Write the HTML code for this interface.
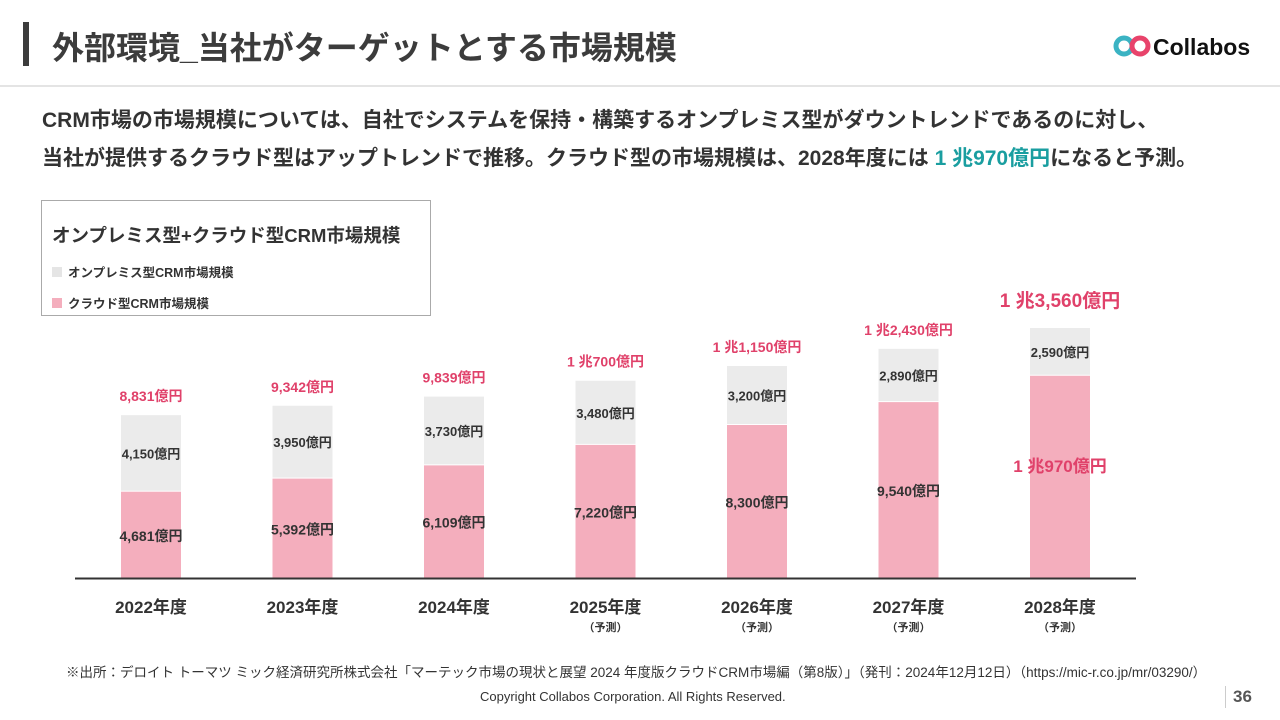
<!DOCTYPE html>
<html><head><meta charset="utf-8">
<style>
body{margin:0;width:1280px;height:720px;background:#fff;font-family:"Liberation Sans","Noto Sans CJK JP",sans-serif;color:#333;position:relative;overflow:hidden}
.abs{position:absolute}
</style></head><body>
<div class="abs" style="left:23px;top:22px;width:6px;height:44px;background:#3c3c3c"></div>
<div class="abs" style="left:52px;top:23px;font-size:32px;font-weight:bold;color:#3c3c3c;white-space:nowrap">外部環境_当社がターゲットとする市場規模</div>
<div class="abs" style="left:1113px;top:30px;width:160px;height:32px">
<svg width="160" height="32"><circle cx="11" cy="16" r="8" fill="none" stroke="#3bb3c3" stroke-width="5"/><circle cx="27" cy="16" r="8" fill="none" stroke="#e8436b" stroke-width="5"/><text x="40" y="25" font-size="23" font-weight="bold" fill="#111" font-family="Liberation Sans,sans-serif">Collabos</text></svg></div>
<div class="abs" style="left:0;top:85px;width:1280px;height:2px;background:#e4e4e4"></div>
<div class="abs" style="left:42px;top:102px;font-size:21px;font-weight:bold;line-height:38px;color:#333;white-space:nowrap">CRM市場の市場規模については、自社でシステムを保持・構築するオンプレミス型がダウントレンドであるのに対し、<br>当社が提供するクラウド型はアップトレンドで推移。クラウド型の市場規模は、2028年度には <span style="color:#1a9ea0">1 兆970億円</span>になると予測。</div>
<div class="abs" style="left:41px;top:200px;width:390px;height:116px;border:1px solid #aaa;box-sizing:border-box">
<div class="abs" style="left:10px;top:21px;font-size:18.5px;font-weight:bold;white-space:nowrap">オンプレミス型+クラウド型CRM市場規模</div>
<div class="abs" style="left:10px;top:61px;font-size:12.5px;font-weight:bold;white-space:nowrap"><span style="display:inline-block;width:10px;height:10px;background:#e5e5e5;margin-right:6px"></span>オンプレミス型CRM市場規模</div>
<div class="abs" style="left:10px;top:92px;font-size:12.5px;font-weight:bold;white-space:nowrap"><span style="display:inline-block;width:10px;height:10px;background:#f4aebd;margin-right:6px"></span>クラウド型CRM市場規模</div>
</div>
<svg class="abs" id="chart" style="left:0;top:0" width="1280" height="720"></svg>
<div class="abs" style="left:66px;top:661px;font-size:13.5px;color:#333;white-space:nowrap">※出所：デロイト トーマツ ミック経済研究所株式会社「マーテック市場の現状と展望 2024 年度版クラウドCRM市場編（第8版）」（発刊：2024年12月12日）（https://mic-r.co.jp/mr/03290/）</div>
<div class="abs" style="left:480px;top:689px;font-size:13px;color:#333;white-space:nowrap">Copyright Collabos Corporation. All Rights Reserved.</div>
<div class="abs" style="left:1225px;top:686px;width:1px;height:22px;background:#ccc"></div>
<div class="abs" style="left:1233px;top:687px;font-size:17px;font-weight:bold;color:#555">36</div>
<script>
const years=["2022年度","2023年度","2024年度","2025年度","2026年度","2027年度","2028年度"];
const forecast=[false,false,false,true,true,true,true];
const cloud=[4681,5392,6109,7220,8300,9540,10970];
const onprem=[4150,3950,3730,3480,3200,2890,2590];
const cloudLabels=["4,681億円","5,392億円","6,109億円","7,220億円","8,300億円","9,540億円","1 兆970億円"];
const onpremLabels=["4,150億円","3,950億円","3,730億円","3,480億円","3,200億円","2,890億円","2,590億円"];
const totalLabels=["8,831億円","9,342億円","9,839億円","1 兆700億円","1 兆1,150億円","1 兆2,430億円","1 兆3,560億円"];
const svg=document.getElementById('chart');
const NS='http://www.w3.org/2000/svg';
const base=578, scale=250/13560;
const y=v=>base-v*scale;
const xc=i=>151+i*151.5;
const bw=60;
function mk(tag,attrs,txt){const e=document.createElementNS(NS,tag);for(const k in attrs)e.setAttribute(k,attrs[k]);if(txt!==undefined)e.textContent=txt;svg.appendChild(e);return e;}
years.forEach((yr,i)=>{
 const tot=cloud[i]+onprem[i];
 const b1=mk('rect',{x:xc(i)-bw/2,y:y(cloud[i]),width:bw,height:base-y(cloud[i]),fill:'#f4aebd'});
 
 
 const b2=mk('rect',{x:xc(i)-bw/2,y:y(tot),width:bw,height:y(cloud[i])-y(tot)-1,fill:'#ebebeb'});
 
 
 const last=i===6;
 const t1=mk('text',{x:xc(i),y:last?(y(cloud[i])+base)/2-5:(y(cloud[i])+base)/2+6,'text-anchor':'middle','font-size':last?17:14,'font-weight':'bold',fill:last?'#e0416a':'#333'},cloudLabels[i]);
 
 
 const t2=mk('text',{x:xc(i),y:(y(tot)+y(cloud[i]))/2+5,'text-anchor':'middle','font-size':13,'font-weight':'bold',fill:'#333'},onpremLabels[i]);
 
 
 const t3=mk('text',{x:xc(i),y:y(tot)-(last?21:14),'text-anchor':'middle','font-size':last?19:14,'font-weight':'bold',fill:'#e0416a'},totalLabels[i]);
 
 
 const t4=mk('text',{x:xc(i),y:613,'text-anchor':'middle','font-size':17,'font-weight':'bold',fill:'#333'},yr);
 
 
 if(forecast[i]){const t5=mk('text',{x:xc(i),y:631,'text-anchor':'middle','font-size':11,'font-weight':'bold',fill:'#333'},'（予測）');
 
 }
});
const ax=mk('line',{x1:75,x2:1136,y1:base+0.5,y2:base+0.5,stroke:'#333','stroke-width':2});


</script>
</body></html>
